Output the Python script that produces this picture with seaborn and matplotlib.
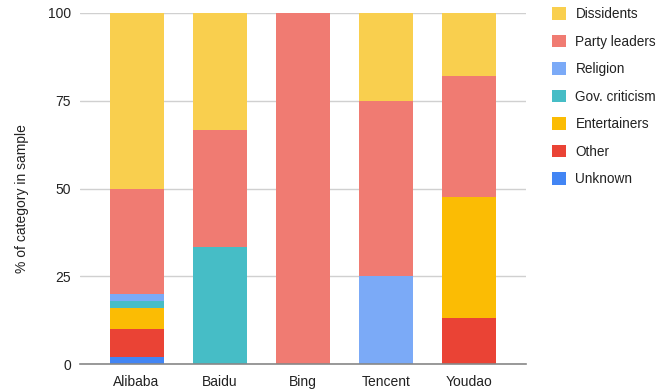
import numpy as np
import pandas as pd
import matplotlib.pyplot as plt
import seaborn as sns
from matplotlib.patches import Patch

engines = ["Alibaba", "Baidu", "Bing", "Tencent", "Youdao"]

# stack order, bottom to top
categories = ["Unknown", "Other", "Entertainers", "Gov. criticism",
              "Religion", "Party leaders", "Dissidents"]
unknown = [2, 0, 0, 0, 0]
other = [8, 0, 0, 0, 13.2]
entertainers = [6, 0, 0, 0, 34.4]
gov_criticism = [2, 33.3, 0, 0, 0]
religion = [2, 0, 0, 25, 0]
party_leaders = [30, 33.3, 100, 50, 34.4]
dissidents = [50, 33.4, 0, 25, 18]

colors = {
    "Dissidents": "#F9CF4E",
    "Party leaders": "#F07B72",
    "Religion": "#7BAAF7",
    "Gov. criticism": "#46BDC6",
    "Entertainers": "#FBBC04",
    "Other": "#EA4335",
    "Unknown": "#4285F4",
}

df = pd.DataFrame({
    "Unknown": unknown, "Other": other, "Entertainers": entertainers,
    "Gov. criticism": gov_criticism, "Religion": religion,
    "Party leaders": party_leaders, "Dissidents": dissidents,
}, index=engines)
cum = df.cumsum(axis=1)

sns.set_style("white")
plt.rcParams["font.family"] = ["Liberation Sans", "DejaVu Sans"]

fig = plt.figure(figsize=(6.69, 3.89), dpi=100)
ax = fig.add_axes([80 / 669, 1 - 364 / 389, 446 / 669, 351 / 389])

# draw tallest cumulative first, then overlay lower layers
for cat in categories[::-1]:
    sns.barplot(x=engines, y=cum[cat].values, color=colors[cat], width=0.65,
                saturation=1, linewidth=0, ax=ax, zorder=3)

ax.set_ylim(0, 100)
ax.set_xlim(-0.68, 4.68)
ax.set_yticks([0, 25, 50, 75, 100])
ax.yaxis.grid(True, color="#d0d0d0", linewidth=1, zorder=0)
ax.set_axisbelow(True)
for s in ["top", "right", "left"]:
    ax.spines[s].set_visible(False)
ax.spines["bottom"].set_color("#888888")
ax.spines["bottom"].set_linewidth(1.2)
ax.spines["bottom"].set_zorder(5)
ax.tick_params(axis="both", length=0, labelsize=10, colors="#222222")
ax.tick_params(axis="x", pad=8)
ax.tick_params(axis="y", pad=6.5)
ax.set_ylabel("% of category in sample", fontsize=10, color="#222222")
ax.yaxis.set_label_coords(-51 / 446, 0.47)
ax.set_xlabel("")

handles = [Patch(facecolor=colors[c], edgecolor="none") for c in categories[::-1]]
fig.legend(handles, categories[::-1], loc="upper left",
           bbox_to_anchor=(540 / 669, 1 + 5 / 389), frameon=False,
           fontsize=9.8, handlelength=1.0, handleheight=1.0, handletextpad=0.7,
           labelspacing=0.99, labelcolor="#222222")

fig.savefig("out.png", dpi=100)
